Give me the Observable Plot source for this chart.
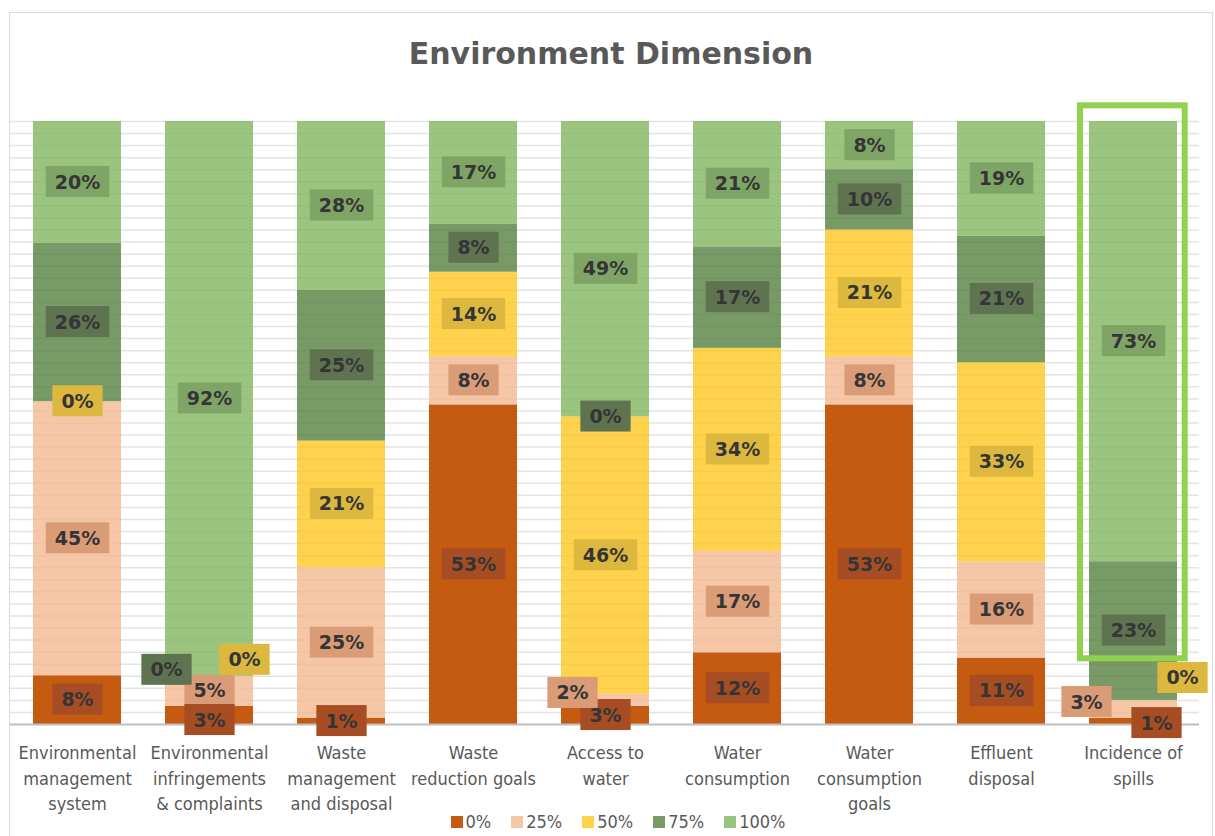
<!DOCTYPE html>
<html>
<head>
<meta charset="utf-8">
<script src="https://cdn.jsdelivr.net/npm/d3@7"></script>
<script src="https://cdn.jsdelivr.net/npm/@observablehq/plot@0.6"></script>
<style>
html, body { margin: 0; padding: 0; background: #fff; }
#wrap { position: relative; width: 1215px; height: 836px; overflow: hidden; background: #fff; }
#frame { position: absolute; left: 9px; top: 12px; width: 1204px; height: 840px; border: 1px solid #D9D9D9; box-sizing: border-box; }
#title { position: absolute; left: 9px; top: 39px; width: 1204px; text-align: center; font: bold 30px "DejaVu Sans", sans-serif; line-height: 30px; color: #595959; }
#chart { position: absolute; left: 0; top: 0; }
#legend { position: absolute; left: 14px; top: 812px; width: 1208px; display: flex; justify-content: center;
  font: 18px "DejaVu Sans Condensed", "Liberation Sans", sans-serif; font-stretch: condensed; line-height: 20px; color: #595959; }
#legend .item { display: inline-flex; align-items: center; margin: 0 10px; }
#legend .sw { display: inline-block; width: 12px; height: 12px; margin-right: 3px; }
</style>
</head>
<body>
<div id="wrap">
  <div id="frame"></div>
  <div id="title">Environment Dimension</div>
  <div id="chart"></div>
  <div id="legend"></div>
</div>
<script>
// ---- data ----
const categories = [
  "Environmental management system",
  "Environmental infringements & complaints",
  "Waste management and disposal",
  "Waste reduction goals",
  "Access to water",
  "Water consumption",
  "Water consumption goals",
  "Effluent disposal",
  "Incidence of spills"
];
const tickLabels = [
  "Environmental\nmanagement\nsystem",
  "Environmental\ninfringements\n& complaints",
  "Waste\nmanagement\nand disposal",
  "Waste\nreduction goals",
  "Access to\nwater",
  "Water\nconsumption",
  "Water\nconsumption\ngoals",
  "Effluent\ndisposal",
  "Incidence of\nspills"
];
const series = ["0%", "25%", "50%", "75%", "100%"];
const values0   = [8, 3, 1, 53, 3, 12, 53, 11, 1];
const values25  = [45, 5, 25, 8, 2, 17, 8, 16, 3];
const values50  = [0, 0, 21, 14, 46, 34, 21, 33, 0];
const values75  = [26, 0, 25, 8, 0, 17, 10, 21, 23];
const values100 = [20, 92, 28, 17, 49, 21, 8, 19, 73];
const seriesValues = [values0, values25, values50, values75, values100];

// ---- styles ----
const swatchColors = ["#C55A11", "#F6C7A6", "#FED24C", "#789A66", "#9BC47E"]; // as seen on white
const barColors    = ["#C55A11", "#F4B990", "#FEC71F", "#568140", "#82B55E"];
const barOpacity   = [1, 0.8, 0.8, 0.8, 0.8];
const boxColors    = ["#A64D24", "#D99C76", "#DDB83F", "#5F7350", "#7EA566"];
// manual label offsets (px) as placed in the original chart
const labelNudges = [
  {category: "Environmental infringements & complaints", series: "0%", dx: 0, dy: 5},
  {category: "Environmental infringements & complaints", series: "50%", dx: 35, dy: -16},
  {category: "Environmental infringements & complaints", series: "75%", dx: -43, dy: -6},
  {category: "Access to water", series: "25%", dx: -33, dy: -7},
  {category: "Incidence of spills", series: "0%", dx: 23, dy: 2},
  {category: "Incidence of spills", series: "25%", dx: -47, dy: -7},
  {category: "Incidence of spills", series: "50%", dx: 49, dy: -22}
];
const highlight = [{category: "Incidence of spills", from: 0.109, to: 1.026}];

// ---- tidy rows ----
const rows = [];
categories.forEach((c, ci) => {
  series.forEach((s, si) => {
    rows.push({category: c, series: s, si, value: seriesValues[si][ci]});
  });
});

// label positions (segment midpoints in normalized units)
const labels = [];
categories.forEach((c, ci) => {
  const total = d3.sum(seriesValues, v => v[ci]);
  let cum = 0;
  series.forEach((s, si) => {
    const v = seriesValues[si][ci];
    const nudge = labelNudges.find(n => n.category === c && n.series === s) || {dx: 0, dy: 0};
    labels.push({category: c, series: s, text: v + "%", mid: (cum + v / 2) / total,
      box: boxColors[si], dx: nudge.dx, dy: nudge.dy});
    cum += v;
  });
});
const groups = d3.groups(labels, d => d.dx + "," + d.dy);

const labelMarks = groups.map(([key, g]) => Plot.text(g, {
  x: "category", y: "mid", text: "text",
  dx: g[0].dx, dy: g[0].dy,
  fill: "#353535", fontWeight: "bold", fontSize: 19,
  fontFamily: "DejaVu Sans, sans-serif",
  ariaLabel: d => d.box
}));

const chart = Plot.plot({
  width: 1215,
  height: 812,
  marginTop: 121,
  marginBottom: 88,
  marginLeft: 10,
  marginRight: 16,
  style: {background: "transparent", overflow: "visible",
    fontFamily: "'DejaVu Sans Condensed', 'Liberation Sans', sans-serif"},
  x: {domain: categories, paddingInner: 1 / 3, paddingOuter: 1 / 6, axis: null},
  y: {domain: [0, 1], axis: null},
  color: {type: "identity"},
  opacity: {domain: [0, 1], range: [0, 1]},
  marks: [
    Plot.ruleY(d3.range(0, 51).map(i => i / 50), {stroke: "#E3E3E3", strokeWidth: 1.5}),
    Plot.barY(rows, Plot.stackY({
      x: "category", y: "value", z: "series",
      fill: d => barColors[d.si], fillOpacity: d => barOpacity[d.si],
      offset: "normalize"
    })),
    Plot.ruleY([0], {stroke: "#BFBFBF", strokeWidth: 2}),
    Plot.barY(highlight, {x: "category", y1: "from", y2: "to", fill: "none",
      stroke: "#92D050", strokeWidth: 6, insetLeft: -9, insetRight: -7.7}),
    ...labelMarks,
    Plot.text(categories, {x: d => d, text: (d, i) => tickLabels[i], frameAnchor: "bottom",
      lineAnchor: "top", dy: 16, fontSize: 18, lineHeight: 1.43, fill: "#595959",
      fontFamily: "'DejaVu Sans Condensed', 'Liberation Sans', sans-serif", fontStretch: "condensed"})
  ]
});
document.getElementById("chart").appendChild(chart);

// boxes behind data labels
const NS = "http://www.w3.org/2000/svg";
chart.querySelectorAll("text[aria-label]").forEach(t => {
  const bb = t.getBBox();
  const r = document.createElementNS(NS, "rect");
  r.setAttribute("x", bb.x - 9);
  r.setAttribute("y", bb.y - 4.5);
  r.setAttribute("width", bb.width + 18);
  r.setAttribute("height", bb.height + 9);
  r.setAttribute("fill", t.getAttribute("aria-label"));
  const tr = t.getAttribute("transform");
  if (tr) r.setAttribute("transform", tr);
  t.parentNode.insertBefore(r, t);
});

// legend
document.getElementById("legend").innerHTML = series.map((s, i) =>
  `<span class="item"><span class="sw" style="background:${swatchColors[i]}"></span>${s}</span>`).join("");
</script>
</body>
</html>
